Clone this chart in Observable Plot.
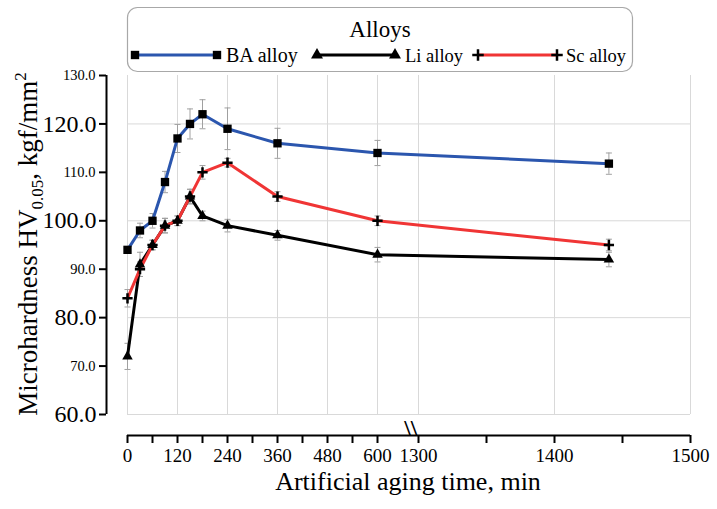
<!DOCTYPE html>
<html><head><meta charset="utf-8">
<script src="https://cdn.jsdelivr.net/npm/d3@7"></script>
<script src="https://cdn.jsdelivr.net/npm/@observablehq/plot@0.6"></script>
<style>
body{margin:0;background:#fff;}
#wrap{position:relative;width:717px;height:509px;font-family:"Liberation Serif","Times New Roman",serif;}
#wrap svg text{font-family:"Liberation Serif","Times New Roman",serif;}
</style></head><body><div id="wrap"></div>
<script>
// ---- data ----
const times = [0, 30, 60, 90, 120, 150, 180, 240, 360, 600, 1440];
const baValues = [94, 98, 100, 108, 117, 120, 122, 119, 116, 114, 111.8];
const liValues = [72, 91, 95, 99, 100, 105, 101, 99, 97, 93, 92];
const scValues = [84, 90, 95, 99, 100, 105, 110, 112, 105, 100, 95];
const baErr = [0.5, 1.5, 1.5, 2.2, 2.9, 3.1, 3.0, 4.3, 3.1, 2.6, 2.2];
const liErr = [2.7, 2.5, 1.0, 1.5, 1.0, 1.5, 1.0, 1.3, 1.0, 1.5, 1.5];
const scErr = [1.8, 1.5, 1.0, 1.5, 1.0, 1.5, 1.4, 0.9, 1.0, 1.0, 1.2];
const seriesNames = ["BA alloy", "Li alloy", "Sc alloy"];
const seriesColors = ["#2b56ae", "#000000", "#f03535"];
const seriesValues = [baValues, liValues, scValues];
const seriesErr = [baErr, liErr, scErr];
const xTicks = [0, 60, 120, 180, 240, 300, 360, 420, 480, 540, 600, 1300, 1350, 1400, 1450, 1500];
const xTickLabels = [0, 120, 240, 360, 480, 600, 1300, 1400, 1500];
const yLargeLabels = [60, 80, 100, 120];
const ySmallLabels = [70, 90, 110, 130];
const gridX = [0, 120, 240, 360, 480, 600, 1300, 1400, 1500];
const gridY = [60, 80, 100, 120];
const axisBreak = 680;
const xTitle = "Artificial aging time, min";
const legendTitle = "Alloys";

// ---- table ----
const rows = [];
seriesNames.forEach((name, k) => times.forEach((t, i) =>
  rows.push({series: name, time: t, value: seriesValues[k][i], err: seriesErr[k][i]})));
const bySeries = name => rows.filter(d => d.series === name);

const capSymbol = {draw(ctx, size) { const w = Math.sqrt(size) / 2; ctx.moveTo(-w, 0); ctx.lineTo(w, 0); }};
const yFloor = 60 - 21 * 70 / 339; // x axis sits below the plot area
const FONT = "'Liberation Serif', 'Times New Roman', serif";

const plot = Plot.plot({
  width: 717, height: 509,
  marginLeft: 106, marginRight: 27, marginTop: 75, marginBottom: 74,
  style: {fontFamily: FONT, color: "#000", background: "white", overflow: "visible"},
  x: {type: "linear", domain: [0, 690, 1300, 1500], range: [127, 414.5, 418, 690]},
  y: {domain: [yFloor, 130]},
  color: {domain: seriesNames, range: seriesColors},
  marks: [
    Plot.ruleY(gridY, {x1: 0, x2: 1500, stroke: "#d9d9d9", strokeWidth: 1}),
    Plot.ruleX(gridX, {y1: 60, y2: 130, stroke: "#d9d9d9", strokeWidth: 1}),
    // error bars
    Plot.ruleX(rows, {x: "time", y1: d => d.value - d.err, y2: d => d.value + d.err, stroke: "#a0a0a0", strokeWidth: 1}),
    Plot.dot(rows, {x: "time", y: d => d.value + d.err, symbol: capSymbol, r: 3.4, stroke: "#a0a0a0", fill: "none", strokeWidth: 1}),
    Plot.dot(rows, {x: "time", y: d => d.value - d.err, symbol: capSymbol, r: 3.4, stroke: "#a0a0a0", fill: "none", strokeWidth: 1}),
    // lines
    Plot.line(rows, {x: "time", y: "value", z: "series", stroke: "series", strokeWidth: 3}),
    // markers
    Plot.dot(bySeries(seriesNames[0]), {x: "time", y: "value", symbol: "square", r: 4.7, fill: "#000"}),
    Plot.dot(bySeries(seriesNames[1]), {x: "time", y: "value", symbol: "triangle", r: 3.9, fill: "#000"}),
    Plot.dot(bySeries(seriesNames[2]), {x: "time", y: "value", symbol: "plus", r: 3.4, stroke: "#000", strokeWidth: 2.5}),
    // y axis
    Plot.ruleX([0], {y1: 60, y2: 130, dx: -21, stroke: "#000", strokeWidth: 2}),
    Plot.axisY({ticks: yLargeLabels, tickSize: 7, tickPadding: 3, fontSize: 24, strokeWidth: 2, tickFormat: d => d.toFixed(1), label: null}),
    Plot.axisY({ticks: ySmallLabels, tickSize: 7, tickPadding: 4, fontSize: 14.5, strokeWidth: 2, tickFormat: d => d.toFixed(1), label: null}),
    // x axis
    Plot.ruleY([yFloor], {x1: 0, x2: 1500, stroke: "#000", strokeWidth: 2}),
    Plot.axisX({ticks: xTicks, tickSize: 8, strokeWidth: 2, fill: "none", label: null}),
    Plot.axisX({ticks: xTickLabels, tickSize: 0, tickPadding: 13, fontSize: 19, tickFormat: d => String(d), label: null}),
    Plot.text([axisBreak], {x: d => d, frameAnchor: "bottom", text: () => "\\\\", fontSize: 24, fontWeight: "bold", fill: "#000"})
  ]
});
const wrap = document.getElementById("wrap");
wrap.appendChild(plot);

// axis titles
const svg = d3.select(plot);
svg.append("text").attr("x", 408).attr("y", 490).attr("text-anchor", "middle")
  .attr("font-size", 26).attr("font-family", FONT).attr("fill", "#000").text(xTitle);
const yt = svg.append("text").attr("transform", "translate(37,244) rotate(-90)").attr("text-anchor", "middle")
  .attr("font-size", 27).attr("font-family", FONT).attr("fill", "#000");
yt.append("tspan").text("Microhardness HV");
yt.append("tspan").attr("font-size", 17).attr("dy", 6).text("0.05");
yt.append("tspan").attr("dy", -6).text(", kgf/mm");
yt.append("tspan").attr("font-size", 17).attr("dy", -11).text("2");

// legend
const L = d3.select(wrap).append("svg").attr("width", 717).attr("height", 80)
  .style("position", "absolute").style("left", "0px").style("top", "0px")
  .attr("font-family", FONT);
L.append("rect").attr("x", 127.5).attr("y", 7.5).attr("width", 505).attr("height", 64).attr("rx", 10)
  .attr("fill", "white").attr("stroke", "#a8a8a8").attr("stroke-width", 1.2);
L.append("text").attr("x", 380).attr("y", 36.5).attr("text-anchor", "middle").attr("font-size", 23).text(legendTitle);
const legendPos = [{x1: 135, x2: 217, tx: 226, fs: 20}, {x1: 317, x2: 395, tx: 405, fs: 18.5}, {x1: 478, x2: 557, tx: 566, fs: 18.5}];
const legendSym = [d3.symbol(d3.symbolSquare, 70), d3.symbol(d3.symbolTriangle, 62), d3.symbol(d3.symbolPlus, 45)];
seriesNames.forEach((name, k) => {
  const p = legendPos[k];
  L.append("line").attr("x1", p.x1).attr("x2", p.x2).attr("y1", 55).attr("y2", 55)
    .attr("stroke", seriesColors[k]).attr("stroke-width", 3);
  [p.x1, p.x2].forEach(x => {
    const s = L.append("path").attr("d", legendSym[k]()).attr("transform", `translate(${x},55)`);
    if (k === 2) s.attr("fill", "none").attr("stroke", "#000").attr("stroke-width", 2.5);
    else s.attr("fill", "#000");
  });
  L.append("text").attr("x", p.tx).attr("y", 61.5).attr("font-size", p.fs).text(name);
});
</script></body></html>
